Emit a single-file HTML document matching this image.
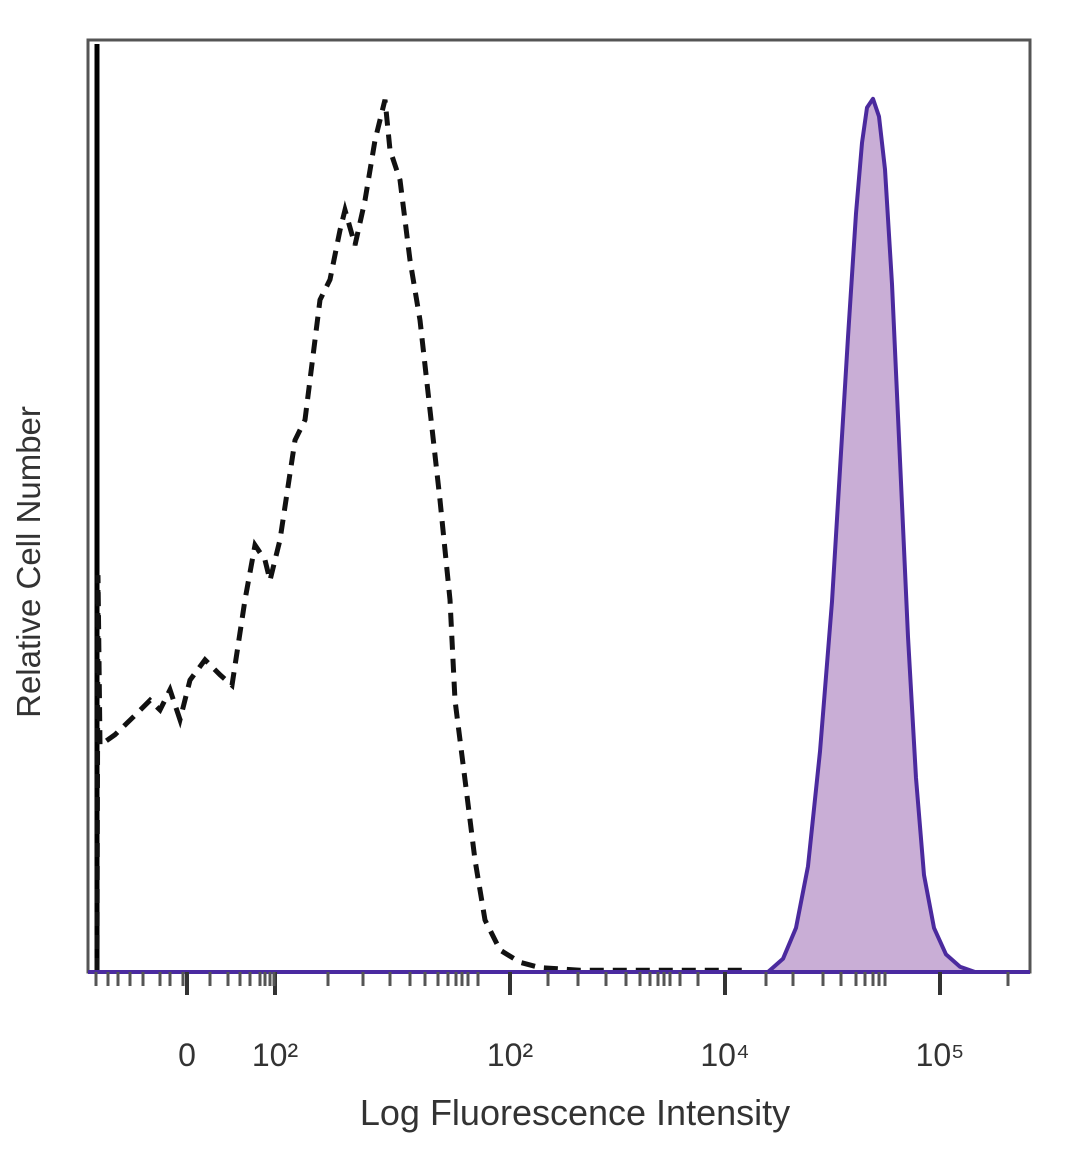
<!DOCTYPE html>
<html><head><meta charset="utf-8"><style>
html,body{margin:0;padding:0;background:#fff;}
svg{display:block;font-family:"Liberation Sans",sans-serif;}
</style></head><body>
<svg id="chart" width="1080" height="1169">
<rect x="88" y="40" width="942" height="932" fill="#fff" stroke="#555" stroke-width="3"/>
<line x1="97" y1="44" x2="97" y2="972" stroke="#000" stroke-width="5"/>
<g id="marks"></g>
<line x1="88" y1="972" x2="1030" y2="972" stroke="#4a2aa0" stroke-width="4"/>
<g id="ticks"></g>
<text x="40" y="562" transform="rotate(-90 40 562)" text-anchor="middle" font-size="33" fill="#333">Relative Cell Number</text>
<text x="575" y="1125" text-anchor="middle" font-size="36" fill="#333">Log Fluorescence Intensity</text>
</svg>
<script>
const isoChannels=[9,10,12,27,47,62,72,82,92,102,117,132,144,157,167,177,182,192,207,217,232,242,252,257,267,277,287,297,302,312,322,332,342,352,362,367,377,387,397,412,432,452,492,662];
const isoCounts=[0,45,25.7,26.9,29.1,30.8,29.7,32,28.6,33.1,35.4,33.7,32.5,42.2,48.4,46.7,44.4,49,60.3,62.6,76.2,78.5,84.1,86.4,82.4,87.5,94.3,98.9,93.2,89.8,80.7,73.9,63.7,53.5,42.2,30.8,21.8,12.7,5.9,2.5,1.1,0.5,0.2,0.2];
const stainChannels=[680,695,708,720,732,744,752,760,768,774,779,785,791,797,804,812,820,828,836,846,858,872,887];
const stainCounts=[0,1.5,5,12,25,42,57,72,86,94,98,99,97,91,78,58,38,22,11,5,2,0.6,0];
const majorTickChannels=[99,187,422,637,852];
const tickLabels=["0","10²","10²","10⁴","10⁵"];
const minorTickChannels=[8,20,30,42,55,72,82,95,122,140,152,162,172,177,182,186,240,275,302,322,337,350,360,368,374,380,390,460,490,518,538,552,562,570,576,582,592,610,678,705,735,753,768,777,785,791,797,920];
const NS='http://www.w3.org/2000/svg';
const xs=c=>88+c;
const ys=v=>972-v*8.82;
const marks=document.getElementById('marks');
function pathD(xsArr,ysArr){return xsArr.map((c,i)=>(i?'L':'M')+xs(c).toFixed(1)+','+ys(ysArr[i]).toFixed(1)).join(' ');}
const fill=document.createElementNS(NS,'path');
fill.setAttribute('d',pathD(stainChannels,stainCounts)+' Z');
fill.setAttribute('fill','#c9aed6');fill.setAttribute('stroke','#4b2a9e');fill.setAttribute('stroke-width','4');fill.setAttribute('stroke-linejoin','round');


marks.appendChild(fill);
const iso=document.createElementNS(NS,'path');
iso.setAttribute('d',pathD(isoChannels,isoCounts));
iso.setAttribute('fill','none');iso.setAttribute('stroke','#111');iso.setAttribute('stroke-width','5');iso.setAttribute('stroke-dasharray','14 9');


marks.appendChild(iso);
const tg=document.getElementById('ticks');
majorTickChannels.forEach((c,i)=>{
 const l=document.createElementNS(NS,'line');
 l.setAttribute('x1',xs(c));l.setAttribute('x2',xs(c));l.setAttribute('y1',972);l.setAttribute('y2',995);
 l.setAttribute('stroke','#333');l.setAttribute('stroke-width','4');
 
 
 tg.appendChild(l);
 const t=document.createElementNS(NS,'text');
 t.setAttribute('x',xs(c));t.setAttribute('y',1066);t.setAttribute('text-anchor','middle');
 t.setAttribute('font-size','32');t.setAttribute('fill','#333');
 t.textContent=tickLabels[i];
 
 
 tg.appendChild(t);
});
minorTickChannels.forEach(c=>{
 const l=document.createElementNS(NS,'line');
 l.setAttribute('x1',xs(c));l.setAttribute('x2',xs(c));l.setAttribute('y1',972);l.setAttribute('y2',986);
 l.setAttribute('stroke','#555');l.setAttribute('stroke-width','3');
 
 
 tg.appendChild(l);
});
</script>
</body></html>
